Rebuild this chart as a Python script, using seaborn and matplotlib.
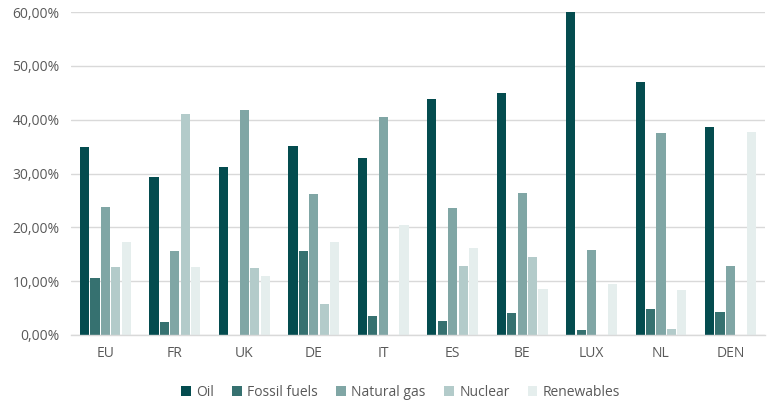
import matplotlib
matplotlib.use("Agg")
import matplotlib.pyplot as plt
from matplotlib.ticker import FuncFormatter
import seaborn as sns
import pandas as pd

countries = ["EU", "FR", "UK", "DE", "IT", "ES", "BE", "LUX", "NL", "DEN"]
sources = ["Oil", "Fossil fuels", "Natural gas", "Nuclear", "Renewables"]

oil = [35.0, 29.3, 31.2, 35.2, 32.9, 43.9, 44.9, 60.0, 47.0, 38.6]
fossil_fuels = [10.5, 2.4, 0.0, 15.6, 3.6, 2.6, 4.0, 0.9, 4.8, 4.3]
natural_gas = [23.7, 15.6, 41.8, 26.1, 40.5, 23.5, 26.3, 15.7, 37.6, 12.8]
nuclear = [12.6, 41.0, 12.5, 5.8, 0.0, 12.8, 14.4, 0.0, 1.1, 0.0]
renewables = [17.3, 12.6, 11.0, 17.3, 20.4, 16.2, 8.5, 9.5, 8.4, 37.7]

palette = ["#044c4f", "#367170", "#80a6a5", "#b3cbca", "#e5eeed"]

rows = []
for name, vals in zip(sources, [oil, fossil_fuels, natural_gas, nuclear, renewables]):
    for c, v in zip(countries, vals):
        rows.append({"country": c, "source": name, "share": v})
df = pd.DataFrame(rows)

sns.set_theme(style="white")
plt.rcParams["font.family"] = ["Open Sans", "DejaVu Sans"]

fig = plt.figure(figsize=(7.69, 4.0), dpi=100)
ax = fig.add_axes([0.092, 0.1625, 0.903, 0.8075])

sns.barplot(data=df, x="country", y="share", hue="source", order=countries,
            hue_order=sources, palette=palette, saturation=1, width=0.75,
            gap=0.12, edgecolor="none", ax=ax, legend=True)

ax.set_ylim(0, 60)
ax.set_yticks(range(0, 61, 10))
ax.yaxis.set_major_formatter(FuncFormatter(lambda v, p: f"{v:.2f}%".replace(".", ",")))
ax.grid(axis="y", color="#d9d9d9", linewidth=1)
ax.set_axisbelow(True)
for s in ["top", "right", "left"]:
    ax.spines[s].set_visible(False)
ax.spines["bottom"].set_color("#d9d9d9")
ax.spines["bottom"].set_linewidth(1)
ax.tick_params(axis="both", length=0, labelsize=10, colors="#595959", pad=8)
ax.set_xlabel("")
ax.set_ylabel("")

leg = ax.legend(loc="upper center", bbox_to_anchor=(0.475, -0.115), ncol=5,
                frameon=False, fontsize=10, handlelength=0.7, handleheight=0.7,
                handletextpad=0.4, columnspacing=1.3)
for t in leg.get_texts():
    t.set_color("#595959")

fig.savefig("out.png", dpi=100)
